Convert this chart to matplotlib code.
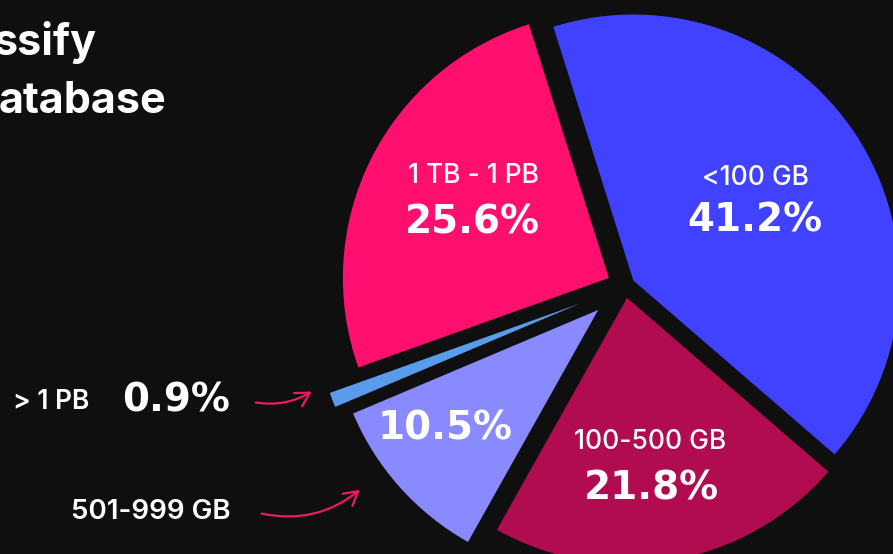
import matplotlib.pyplot as plt

# storage size buckets, in the order they run clockwise from the top
sizes = ['<100 GB', '100-500 GB', '501-999 GB', '> 1 PB', '1 TB - 1 PB']
shares = [41.2, 21.8, 10.5, 0.9, 25.6]
pct_labels = ['41.2%', '21.8%', '10.5%', '0.9%', '25.6%']
title_lines = ['ssify', 'atabase']

colors = ['#4042ff', '#b00c4f', '#8a8aff', '#5a9cec', '#ff106f']
bg = '#0f0f0f'
arrow_col = '#ec1a64'

W, H = 893, 554
fig = plt.figure(figsize=(W / 100, H / 100), dpi=100, facecolor=bg)
ax = fig.add_axes([0, 0, 1, 1])
ax.set_facecolor(bg)

# pie laid out in pixel units, each slice pushed out by its own amount
wedges, _ = ax.pie(shares, colors=colors, startangle=107.5, counterclock=False,
                   radius=266, center=(625, H - 286),
                   explode=[10, 12, 36, 48, 18],
                   wedgeprops=dict(linewidth=0))
ax.set_xlim(0, W)
ax.set_ylim(0, H)
ax.set_aspect('equal')
ax.axis('off')

lab = dict(color='white', ha='center', va='center', family='Inter',
           fontsize=19, fontweight='medium')
pct = dict(color='white', ha='center', va='center', family='DejaVu Sans',
           fontsize=28, fontweight='heavy')

ax.text(755, H - 178, sizes[0], **lab)
ax.text(755, H - 221, pct_labels[0], **pct)
ax.text(650, H - 442, sizes[1], **lab)
ax.text(651, H - 488, pct_labels[1], **pct)
ax.text(445, H - 428, pct_labels[2], **pct)
ax.text(473, H - 176, sizes[4], **lab)
ax.text(472, H - 223, pct_labels[4], **pct)

# outside labels for the two small slices
ax.text(51, H - 402, sizes[3], color='white', ha='center', va='center',
        family='Inter', fontsize=19, fontweight='semibold')
ax.text(176, H - 400, pct_labels[3], **pct)
ax.text(151, H - 512, sizes[2], color='white', ha='center', va='center',
        family='Inter', fontsize=20, fontweight='semibold')

arw = dict(arrowstyle='->,head_length=0.7,head_width=0.4', color=arrow_col,
           lw=1.6, mutation_scale=14)
ax.annotate('', xy=(314, H - 390), xytext=(253, H - 402),
            arrowprops=dict(connectionstyle='arc3,rad=0.2', **arw))
ax.annotate('', xy=(362, H - 488), xytext=(259, H - 513),
            arrowprops=dict(connectionstyle='arc3,rad=0.25', **arw))

# cropped heading at top left
ax.text(96, H - 55, title_lines[0], color='white', ha='right', va='baseline',
        family='Inter', fontsize=31, fontweight='bold')
ax.text(166, H - 113, title_lines[1], color='white', ha='right', va='baseline',
        family='Inter', fontsize=31, fontweight='bold')

fig.savefig('out.png', dpi=100, facecolor=bg)
